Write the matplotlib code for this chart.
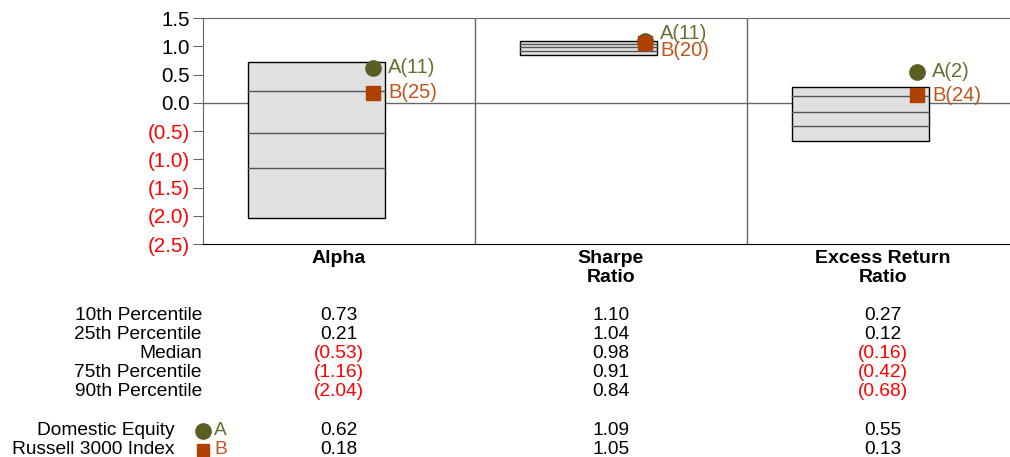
import numpy as np
import matplotlib.pyplot as plt
from matplotlib.patches import Rectangle
from matplotlib.transforms import blended_transform_factory

plt.rcParams['font.family'] = ['Liberation Sans', 'DejaVu Sans']

categories = ['Alpha', 'Sharpe\nRatio', 'Excess Return\nRatio']
p10 = [0.73, 1.10, 0.27]
p25 = [0.21, 1.04, 0.12]
median = [-0.53, 0.98, -0.16]
p75 = [-1.16, 0.91, -0.42]
p90 = [-2.04, 0.84, -0.68]
fund_a = [0.62, 1.09, 0.55]
fund_b = [0.18, 1.05, 0.13]
rank_a = [11, 11, 2]
rank_b = [25, 20, 24]
row_names = ['10th Percentile', '25th Percentile', 'Median', '75th Percentile', '90th Percentile']
name_a = 'Domestic Equity'
name_b = 'Russell 3000 Index'

col_a = '#5b5e22'
col_b = '#b04000'
txt_a = '#6b6d2e'
txt_b = '#c0541c'
neg_red = '#ff0000'
grid_gray = '#666666'
fs_tab = 13.8

def fmt(v, nd=2):
    s = f'{abs(v):.{nd}f}'
    return f'({s})' if v < 0 else s

fig = plt.figure(figsize=(10.1, 4.57), dpi=100)
ax = fig.add_axes([203/1010, 1 - 244/457, 1 - 203/1010, 226/457])

n = len(categories)
ax.set_xlim(-0.5, -0.5 + 807/272)
ax.set_ylim(-2.5, 1.5)

# zero line and panel separators
ax.axhline(0, color=grid_gray, lw=1, zorder=1)
for i in range(n - 1):
    ax.axvline(i + 0.5, color=grid_gray, lw=1, zorder=1)

box_l, box_r = -0.335, 0.169
mark_x = 0.125
for i in range(n):
    lo, hi = p90[i], p10[i]
    ax.add_patch(Rectangle((i + box_l, lo), box_r - box_l, hi - lo,
                           facecolor='#e0e0e0', edgecolor='black', lw=1, zorder=2))
    for v in (p25[i], median[i], p75[i]):
        ax.plot([i + box_l, i + box_r], [v, v], color='#555555', lw=1, zorder=3)

    ax.plot(i + mark_x, fund_a[i], 'o', ms=11, color=col_a, zorder=4)
    ax.plot(i + mark_x, fund_b[i], 's', ms=9.5, color=col_b, zorder=5)

    # keep the two rank labels from overlapping
    ya, yb = fund_a[i], fund_b[i]
    min_gap = 0.3
    if ya - yb < min_gap:
        mid = (ya + yb) / 2
        ya, yb = mid + min_gap / 2, mid - min_gap / 2
    ax.text(i + 0.18, ya, f'A({rank_a[i]})', color=txt_a, fontsize=14.5,
            va='center', ha='left', zorder=6)
    ax.text(i + 0.18, yb, f'B({rank_b[i]})', color=txt_b, fontsize=14.5,
            va='center', ha='left', zorder=6)

ax.spines['right'].set_visible(False)
ax.spines['top'].set_color(grid_gray)
ax.spines['left'].set_color(grid_gray)
ax.spines['bottom'].set_color('black')

yt = np.arange(-2.5, 1.51, 0.5)
ax.set_yticks(yt)
ax.set_yticklabels([fmt(v, 1) for v in yt], fontsize=14.8)
for lab, v in zip(ax.get_yticklabels(), yt):
    lab.set_color(neg_red if v < 0 else 'black')
ax.tick_params(axis='y', length=7, color=grid_gray, pad=2.5)

ax.set_xticks(range(n))
ax.set_xticklabels(categories, fontsize=14, fontweight='bold', linespacing=1.15)
ax.tick_params(axis='x', length=0, pad=4)

# summary table below the chart
tr = blended_transform_factory(ax.transData, fig.transFigure)
def fy(px):
    return 1 - px / 457

rows = [p10, p25, median, p75, p90]
row_y = [315.5, 334.5, 353.5, 372.5, 391.5]
for name, vals, y in zip(row_names, rows, row_y):
    fig.text(202/1010, fy(y), name, ha='right', va='center', fontsize=fs_tab)
    for i, v in enumerate(vals):
        ax.text(i, fy(y), fmt(v), transform=tr, ha='center', va='center', fontsize=fs_tab,
                color=neg_red if v < 0 else 'black')

for name, vals, y, mk, mc, tc, letter, ms in [
        (name_a, fund_a, 430.5, 'o', col_a, txt_a, 'A', 11),
        (name_b, fund_b, 449.5, 's', col_b, txt_b, 'B', 9)]:
    fig.text(175/1010, fy(y), name, ha='right', va='center', fontsize=fs_tab)
    fig.lines.append(plt.Line2D([203/1010], [fy(y)], marker=mk, ms=ms, color=mc,
                                transform=fig.transFigure))
    fig.text(214/1010, fy(y), letter, ha='left', va='center', fontsize=fs_tab, color=tc)
    for i, v in enumerate(vals):
        ax.text(i, fy(y), fmt(v), transform=tr, ha='center', va='center', fontsize=fs_tab,
                color=neg_red if v < 0 else 'black')

fig.savefig('out.png', dpi=100)
